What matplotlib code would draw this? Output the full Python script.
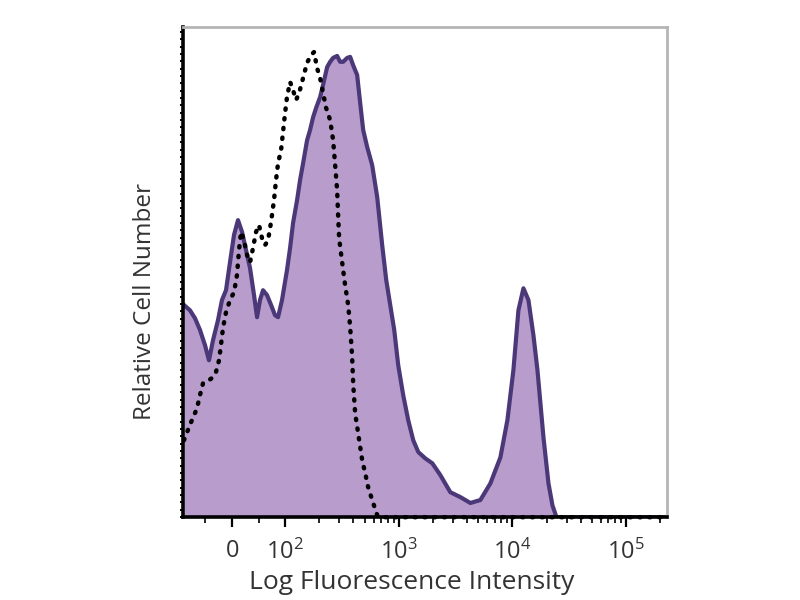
import numpy as np
import matplotlib
matplotlib.use("Agg")
import matplotlib.pyplot as plt

plt.rcParams['font.family'] = ['Open Sans', 'DejaVu Sans']
plt.rcParams['mathtext.default'] = 'regular'

# stained sample (filled, solid outline)
stain_x = [-90.6, -79.2, -69.8, -60.4, -50.9, -43.4, -35.8, -26.4, -18.9, -11.3,
           -3.8, 3.8, 11.3, 18.9, 26.4, 34.0, 41.5, 47.2, 52.8, 58.5,
           66.0, 73.6, 81.1, 86.8, 94.3, 104, 110.7, 117.6, 127.6, 135.6,
           144.1, 156.2, 166.1, 176.5, 187.6, 203.4, 216.1, 234.4, 249.2, 264.8,
           287.1, 305.2, 324.3, 351.9, 373.9, 397.3, 430.9, 458.0, 486.7, 527.9,
           584.3, 646.6, 715.5, 776.1, 841.6, 912.9, 989.9, 1095, 1212, 1342,
           1485, 1712, 1974, 2321, 2843, 3483, 4266, 5225, 6401, 7840,
           9036, 10203, 11295, 12502, 13836, 15312, 16612, 18758, 20763, 22515,
           24421, 230000]
stain_y = [43.3, 42.2, 40.6, 38.2, 35.1, 32.0, 36.1, 40.2, 44.3, 46.3,
           52.0, 57.6, 60.6, 58.2, 54.5, 50.8, 45.3, 40.8, 44.3, 46.3,
           45.3, 43.3, 41.2, 40.8, 44.3, 50.4, 54.9, 60.0, 64.7, 68.8,
           72.2, 76.9, 79.0, 81.6, 83.5, 85.7, 88.2, 91.8, 92.9, 93.7,
           94.1, 92.9, 92.9, 93.7, 93.9, 92.2, 90.2, 84.5, 79.0, 75.5,
           71.8, 65.3, 55.5, 48.4, 43.3, 38.2, 31.0, 24.9, 19.8, 15.7,
           13.3, 12.0, 11.0, 8.6, 5.1, 4.1, 2.9, 3.5, 6.9, 12.2,
           19.8, 30.0, 42.2, 46.7, 44.3, 37.1, 30.0, 16.3, 6.9, 2.4,
           0.0, 0.0]

# isotype control (dotted)
ctrl_x = [-90.6, -83.0, -75.5, -66.0, -60.4, -54.7, -45.3, -37.7, -30.2, -24.5,
          -20.8, -17.0, -11.3, -3.8, 3.8, 9.4, 13.2, 17.0, 22.6, 28.3,
          34.0, 39.6, 45.3, 50.9, 56.6, 62.3, 67.9, 73.6, 79.2, 83.0,
          86.8, 92.5, 96.2, 100, 104, 110.7, 117.6, 125.0, 132.8, 144.1,
          156.2, 169.6, 180.0, 191.4, 203.4, 216.1, 229.7, 249.2, 264.8, 276.0,
          287.1, 293.0, 299.0, 317.8, 337.8, 359.1, 373.9, 389.2, 397.3, 413.7,
          439.7, 477.2, 506.9, 538.7, 584.3, 646.6, 689.0, 230000]
ctrl_y = [15.7, 17.8, 19.8, 22.2, 24.9, 27.3, 27.8, 28.4, 29.6, 32.0,
          35.1, 38.6, 41.8, 44.3, 45.9, 49.4, 54.5, 58.2, 56.5, 53.5,
          52.0, 54.9, 58.2, 59.6, 56.9, 55.5, 56.5, 60.2, 64.7, 68.8,
          72.2, 74.9, 78.6, 82.4, 85.7, 88.8, 87.1, 85.1, 86.5, 89.6,
          92.7, 94.3, 94.9, 91.6, 89.6, 86.5, 83.5, 81.0, 76.9, 71.8,
          66.7, 61.6, 56.9, 52.0, 47.3, 43.3, 38.8, 32.7, 27.3, 21.2,
          17.1, 11.6, 9.0, 6.1, 3.5, 0.4, 0.0, 0.0]

tick_vals = [0, 100, 1000, 10000, 100000]
tick_labels = [r'$0$', r'$10^2$', r'$10^3$', r'$10^4$', r'$10^5$']

fig = plt.figure(figsize=(8, 6), dpi=100)
ax = fig.add_axes([0.229, 0.138, 0.605, 0.817])

ax.set_xscale('symlog', linthresh=100, linscale=0.42)
ax.fill_between(stain_x, stain_y, 0, color='#b89dcc', lw=0)
ax.plot(stain_x, stain_y, color='#4b3879', lw=3, solid_joinstyle='round')
ax.plot(ctrl_x, ctrl_y, color='black', lw=3.2, linestyle=(0, (0.3, 1.9)),
        dash_capstyle='round', clip_on=False, zorder=3)

ax.set_xlim(-92, 230000)
ax.set_ylim(0, 100)

ax.set_xticks(tick_vals)
ax.set_xticklabels(tick_labels)
minors = [-50, 50]
for d in [100, 1000, 10000, 100000]:
    minors += [d * k for k in range(2, 10) if d * k < 230000]
ax.set_xticks(minors, minor=True)
ax.tick_params(axis='x', which='major', direction='out', length=7, width=1.6,
               labelsize=17, colors='black', labelcolor='#333333', pad=9)
ax.tick_params(axis='x', which='minor', direction='out', length=4, width=1.2)
ax.set_yticks(np.arange(0, 100, 1.5), minor=True)
ax.set_yticks([])
ax.tick_params(axis='y', which='minor', direction='out', length=2.5, width=1.4)

for s in ['left', 'bottom']:
    ax.spines[s].set_color('black')
    ax.spines[s].set_linewidth(2.6)
for s in ['top', 'right']:
    ax.spines[s].set_color('#b5b5b5')
    ax.spines[s].set_linewidth(2)

ax.set_xlabel('Log Fluorescence Intensity', fontsize=19, color='#333333')
ax.xaxis.set_label_coords(0.473, -0.108)
ax.set_ylabel('Relative Cell Number', fontsize=17.5, color='#333333')
ax.yaxis.set_label_coords(-0.054, 0.44)

fig.savefig('out.png', dpi=100)
